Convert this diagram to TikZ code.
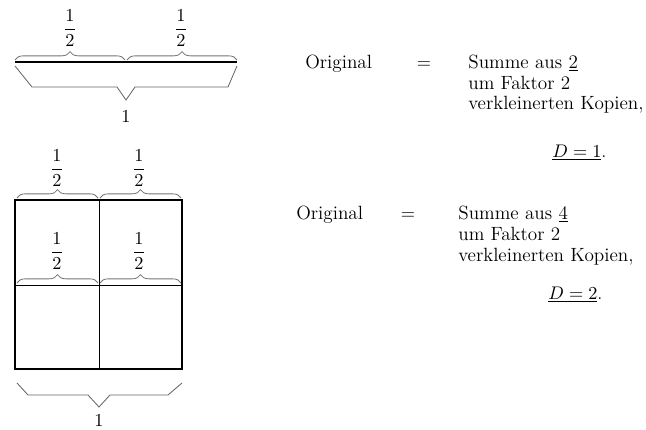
\documentclass[tikz,border=0pt]{standalone}
\usetikzlibrary{decorations.pathreplacing}

\tikzset{
  halfbrace/.style={decorate,decoration={brace,amplitude=5pt},black!55,line width=0.5pt},
  onebrace/.style={black!60,line width=0.5pt},
  txt/.style={anchor=base west,inner sep=0pt,font=\fontsize{11.5}{13}\selectfont},
}

\begin{document}
\begin{tikzpicture}[x=0.6pt,y=-0.6pt,font=\fontsize{11}{13}\selectfont]
\useasboundingbox (0,0) rectangle (646,430);

% ---------- Segment of length 1 ----------
\coordinate (SL) at (15,62);
\coordinate (SM) at (126,62);
\coordinate (SR) at (237,62);
\draw[line width=1pt] (SL) -- (SR);

% two halves
\draw[halfbrace] (15,60) -- (125,60);
\draw[halfbrace] (127,60) -- (237,60);
\node (h1) at (70,28) {$\displaystyle\frac{1}{2}$};
\node (h2) at (181,28) {$\displaystyle\frac{1}{2}$};

% whole
\draw[onebrace] (15,66) -- (32,87) -- (117,87) -- (126,100) -- (135,87) -- (228,87) -- (237,66);
\node (one1) at (126,117) {$1$};

% ---------- Square of side 1 ----------
\coordinate (QA) at (15,200);
\coordinate (QB) at (182,200);
\coordinate (QC) at (182,369);
\coordinate (QD) at (15,369);
\draw[line width=0.4pt] (99,200) -- (99,369);
\draw[line width=0.4pt] (15,285) -- (182,285);
\draw[line width=1.1pt] (QA) -- (QB) -- (QC) -- (QD) -- cycle;

% halves on top
\draw[halfbrace] (17,198) -- (98,198);
\draw[halfbrace] (100,198) -- (181,198);
\node (q1) at (57,168) {$\displaystyle\frac{1}{2}$};
\node (q2) at (139,168) {$\displaystyle\frac{1}{2}$};

% halves inside
\draw[halfbrace] (17,283) -- (98,283);
\draw[halfbrace] (100,283) -- (181,283);
\node (q3) at (57,251) {$\displaystyle\frac{1}{2}$};
\node (q4) at (139,251) {$\displaystyle\frac{1}{2}$};

% whole
\draw[onebrace] (17,383) -- (28,395) -- (88,395) -- (99,407) -- (110,395) -- (168,395) -- (182,383);
\node (one2) at (99,421) {$1$};

% ---------- Text ----------
\node[txt] (o1) at (305,68) {Original};
\node[anchor=base,inner sep=0pt] (e1) at (424,68) {$=$};
\node[txt] (s1a) at (468,68) {Summe aus \underline{2}};
\node[txt] (s1b) at (468,89) {um Faktor 2};
\node[txt] (s1c) at (468,109) {verkleinerten Kopien,};
\node[anchor=base west,inner sep=0pt] (d1) at (552,157) {$\underline{D=1}$.};

\node[txt] (o2) at (296,219) {Original};
\node[anchor=base,inner sep=0pt] (e2) at (408,219) {$=$};
\node[txt] (s2a) at (458,219) {Summe aus \underline{4}};
\node[txt] (s2b) at (458,240) {um Faktor 2};
\node[txt] (s2c) at (458,261) {verkleinerten Kopien,};
\node[anchor=base west,inner sep=0pt] (d2) at (548,299) {$\underline{D=2}$.};

\end{tikzpicture}
\end{document}
